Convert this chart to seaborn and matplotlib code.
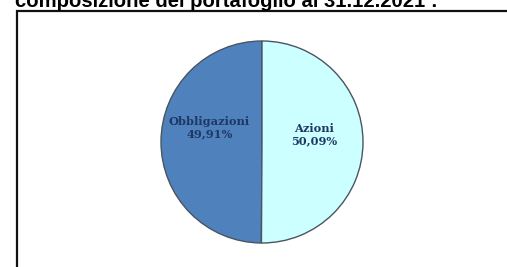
import matplotlib
matplotlib.use("Agg")
import matplotlib.pyplot as plt
import matplotlib.patches as mpatches
import seaborn as sns

categories = ["Obbligazioni", "Azioni"]
values = [49.91, 50.09]
value_labels = ["49,91%", "50,09%"]
colors = ["#4F81BD", "#CCFFFF"]
title = "composizione del portafoglio al 31.12.2021 :"

sns.set_theme(style="white")
plt.rcParams["font.family"] = ["Liberation Sans", "DejaVu Sans"]

W, H = 507, 267
fig = plt.figure(figsize=(W / 100, H / 100), dpi=100)
fig.patch.set_facecolor("white")

# frame box (top and left visible)
box = mpatches.Rectangle((17 / W, -0.1), 1.2, (H - 11) / H + 0.1,
                         transform=fig.transFigure, fill=False,
                         edgecolor="#111111", linewidth=1.6)
fig.add_artist(box)

fig.text(15 / W, (H - 7) / H, title, ha="left", va="baseline",
         fontsize=14.6, fontweight="bold", color="black")

cx, cy, r = 262, 142, 101
ax = fig.add_axes([(cx - r) / W, (H - cy - r) / H, 2 * r / W, 2 * r / H])
ax.pie(values, colors=colors, startangle=90, counterclock=True,
       wedgeprops=dict(edgecolor="#4a5560", linewidth=1.0))
ax.set_xlim(-1.0, 1.0)
ax.set_ylim(-1.0, 1.0)
ax.set_aspect("auto")
ax.axis("off")

label_pos = [(-0.52, 0.14), (0.52, 0.07)]
for (x, y), cat, vl in zip(label_pos, categories, value_labels):
    ax.text(x, y, f"{cat}\n{vl}", ha="center", va="center",
            fontsize=8.2, fontweight="bold", color="#1F3864",
            family=["DejaVu Serif"], linespacing=1.2)

fig.savefig("out.png", dpi=100, facecolor="white")
